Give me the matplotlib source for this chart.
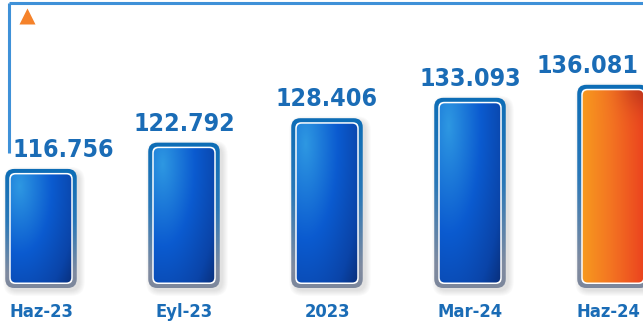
import numpy as np
import matplotlib
matplotlib.use("Agg")
import matplotlib.pyplot as plt
from matplotlib import font_manager
from matplotlib.font_manager import FontProperties
from matplotlib.patches import FancyBboxPatch
from matplotlib.colors import to_rgb

periods = ["Haz-23", "Eyl-23", "2023", "Mar-24", "Haz-24"]
values = [116.756, 122.792, 128.406, 133.093, 136.081]
value_labels = ["116.756", "122.792", "128.406", "133.093", "136.081"]

# canvas geometry (pixels at dpi 100)
W, H = 643, 324
XPP = 1 / 143.0          # data x per pixel
YPP = 1 / 4.353          # data y per pixel
BASE = 89.4              # value at the bar foot line
FOOT_PX = 36             # pixels below the bar foot

TEXT_BLUE = "#1a6cb6"


def pick_font():
    # prefer a bold narrow/condensed face if one is installed
    def heavy(f):
        w = f.weight
        if isinstance(w, str):
            w = font_manager.weight_dict.get(w, 400)
        return w >= 600
    cands = [f for f in font_manager.fontManager.ttflist
             if heavy(f) and ("Narrow" in f.name or "Condensed" in f.name
                              or str(f.stretch) in ("condensed", "semi-condensed",
                                                    "extra-condensed"))]
    if cands:
        return FontProperties(fname=cands[0].fname)
    return FontProperties(family="Roboto", weight="bold")


FP = pick_font()

fig = plt.figure(figsize=(W / 100, H / 100), dpi=100)
ax = fig.add_axes([0, 0, 1, 1])
ax.set_axis_off()
renderer = fig.canvas.get_renderer()


def fit_size(sample, target_px):
    t = fig.text(0, 0, sample, fontproperties=FP, fontsize=20)
    wpx = t.get_window_extent(renderer).width
    t.remove()
    return 20 * target_px / wpx


VAL_SIZE = fit_size("116.756", 102)
CAT_SIZE = fit_size("Haz-23", 64)

x = np.arange(len(values))
bars = ax.bar(x, np.array(values) - BASE, bottom=BASE, width=0.5,
              color="none", edgecolor="none")


def rbox(x0, y0, w, h, inset, radius, **kw):
    dx, dy = inset * XPP, inset * YPP
    p = FancyBboxPatch((x0 + dx, y0 + dy), w - 2 * dx, h - 2 * dy,
                       boxstyle=f"round,pad=0,rounding_size={radius * XPP}",
                       mutation_aspect=YPP / XPP, **kw)
    ax.add_patch(p)
    return p


def lerp_colors(t, stops):
    pos = [s[0] for s in stops]
    cols = np.array([to_rgb(s[1]) for s in stops])
    out = np.empty(t.shape + (3,))
    for c in range(3):
        out[..., c] = np.interp(t, pos, cols[:, c])
    return out


def blue_fill(n=200, m=80):
    v, u = np.mgrid[0:1:n * 1j, 0:1:m * 1j]
    d = np.sqrt(((u - 0.2) / 1.0) ** 2 + ((v - 0.85) / 1.25) ** 2)
    return lerp_colors(d, [(0.0, "#2e98e2"), (0.45, "#0b5bd0"),
                           (0.8, "#0a44a8"), (1.05, "#09286c")])


def orange_fill(n=200, m=80):
    v, u = np.mgrid[0:1:n * 1j, 0:1:m * 1j]
    img = lerp_colors(u, [(0.0, "#f8a01e"), (0.5, "#f37222"), (1.0, "#ea3c1e")])
    shade = np.exp(-(((u - 1.0) / 0.35) ** 2 + ((v - 1.0) / 0.12) ** 2))
    dark = np.array(to_rgb("#a8301a"))
    return img * (1 - 0.7 * shade[..., None]) + dark * 0.7 * shade[..., None]


def frame_fill(n=200):
    t = np.linspace(0, 1, n)[:, None]
    return lerp_colors(t, [(0.0, "#7c879c"), (0.12, "#808ba0"),
                           (0.55, "#2a78b8"), (1.0, "#0d6db6")])


last = len(bars) - 1
for i, rect in enumerate(bars):
    x0, y0 = rect.get_x(), rect.get_y()
    w, h = rect.get_width(), rect.get_height()

    # soft drop shadow, mostly down and to the right
    for k in range(6):
        s = rbox(x0 + 3 * XPP, y0 - 3 * YPP, w, h, -k, 9 + k,
                 fc="black", ec="none", alpha=0.018, zorder=1)
        s.set_clip_on(False)

    outer = rbox(x0, y0, w, h, 0, 9, fc="none", ec="none", zorder=2)
    im = ax.imshow(frame_fill(), extent=(x0, x0 + w, y0, y0 + h),
                   origin="lower", aspect="auto", zorder=2,
                   interpolation="bilinear")
    im.set_clip_path(outer)

    rbox(x0, y0, w, h, 4, 6, fc="white", ec="none", zorder=3)

    inner = rbox(x0, y0, w, h, 5.5, 5, fc="none", ec="none", zorder=4)
    fill = orange_fill() if i == last else blue_fill()
    im = ax.imshow(fill, extent=(x0, x0 + w, y0, y0 + h), origin="lower",
                   aspect="auto", zorder=4, interpolation="bilinear")
    im.set_clip_path(inner)

    # value above, period below (edge labels nudged inwards)
    shift = 22 if i == 0 else (-26 if i == last else 0)
    ax.annotate(value_labels[i], (x0 + w / 2, y0 + h),
                xytext=(shift * 0.72, 12 * 0.72), textcoords="offset points",
                ha="center", va="baseline", fontsize=VAL_SIZE,
                fontproperties=FP, color=TEXT_BLUE, zorder=6)
    cshift = -5 if i == last else 0
    ax.annotate(periods[i], (x0 + w / 2, y0), xytext=(cshift * 0.72, -29 * 0.72),
                textcoords="offset points", ha="center", va="baseline",
                fontsize=CAT_SIZE, fontproperties=FP, color=TEXT_BLUE,
                zorder=6)

# frame lines and marker
ax.plot([9 / W, 9 / W], [1 - 2.5 / H, 1 - 153 / H], color="#3f91d8",
        lw=2.2, transform=ax.transAxes, solid_capstyle="butt", zorder=5)
ax.plot([9 / W, 1], [1 - 2.5 / H, 1 - 2.5 / H], color="#3f91d8",
        lw=2.2, transform=ax.transAxes, solid_capstyle="butt", zorder=5)
ax.plot([27 / W], [1 - 16 / H], marker="^", ms=11, color="#f5822a",
        mec="none", transform=ax.transAxes, zorder=5)

ax.set_xlim(-41 * XPP, (W - 41) * XPP)
ax.set_ylim(BASE - FOOT_PX * YPP, BASE + (H - FOOT_PX) * YPP)

fig.savefig("out.png", dpi=100, facecolor="white")
